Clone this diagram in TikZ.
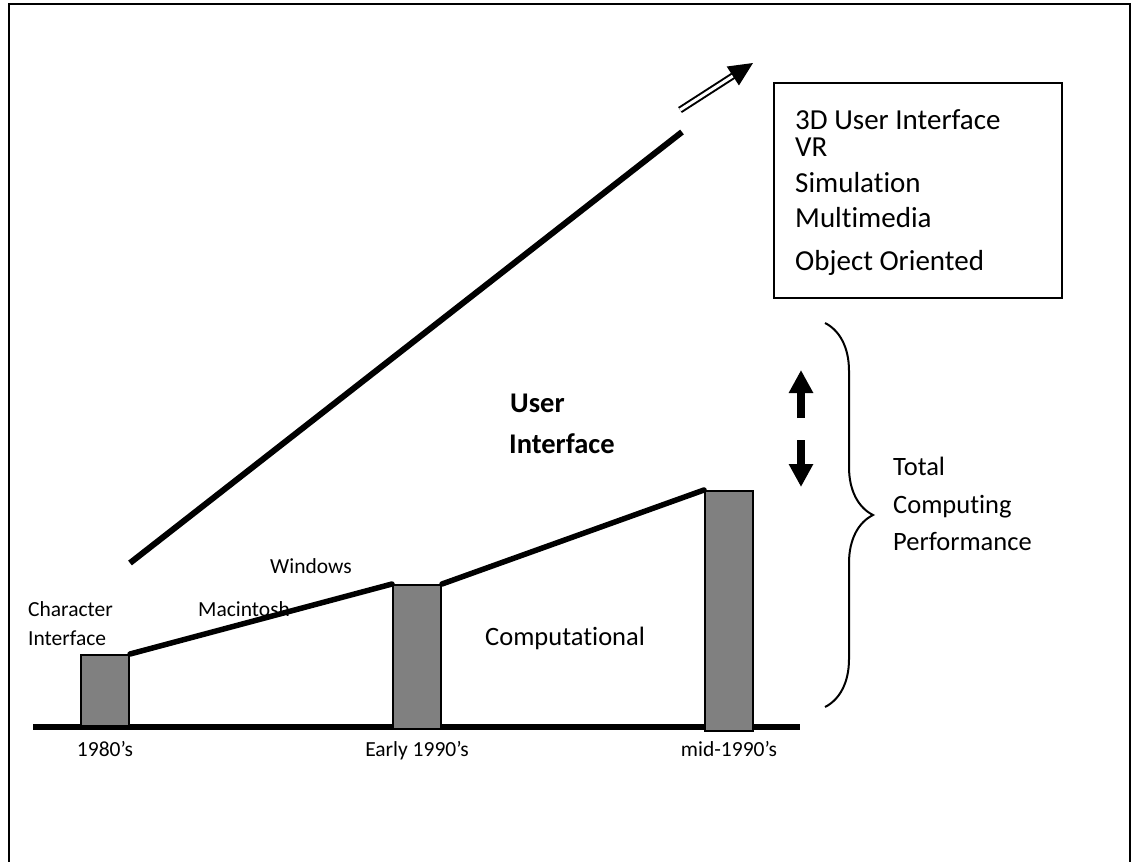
\documentclass[tikz,border=0pt]{standalone}
\usepackage{fontspec}
\setmainfont{Carlito}[Ligatures=NoCommon]
\usepackage{xcolor}
\usetikzlibrary{arrows.meta,decorations.pathreplacing}
\definecolor{ink}{HTML}{000000}
\definecolor{barfill}{HTML}{808080}
\tikzset{
  frame/.style={draw=ink, line width=2.5pt},
  axis/.style={draw=ink, line width=6pt},
  perf/.style={draw=ink, line width=5.5pt, line cap=round},
  trend/.style={draw=ink, line width=6pt},
  bar/.style={draw=ink, fill=barfill, line width=2pt, minimum width=48pt, inner sep=0pt, anchor=south},
  dbl/.style={draw=ink, double=white, double distance=3pt, line width=2pt, -{Triangle[length=24pt,width=22pt]}},
  fat/.style={draw=ink, line width=8pt, -{Triangle[length=23pt,width=23pt]}},
  brc/.style={draw=ink, line width=2pt, decorate, decoration={brace, amplitude=48pt}},
  box/.style={draw=ink, line width=2pt, inner sep=0pt},
  labs/.style={text=ink, font=\fontsize{21.5}{24}\selectfont, inner sep=0pt},
  labm/.style={text=ink, font=\fontsize{26.5}{30}\selectfont, inner sep=0pt},
  labb/.style={text=ink, font=\fontsize{28.5}{32}\selectfont\bfseries, inner sep=0pt},
  labx/.style={text=ink, font=\fontsize{29}{33}\selectfont, inner sep=0pt},
}
\begin{document}
\begin{tikzpicture}[x=1pt,y=-1pt]
  \useasboundingbox (0,0) rectangle (1139,861);
  \clip (0,0) rectangle (1139,861);
  \draw[frame] (9,4) rectangle (1130,900);

  % time axis and bars
  \coordinate (axL) at (33,727);
  \coordinate (axR) at (800,727);
  \draw[axis] (axL) -- (axR);
  \node[bar, minimum height=71pt] (b80) at (105,727) {};
  \node[bar, minimum height=144pt] (b90) at (417,730) {};
  \node[bar, minimum height=240pt] (b95) at (729,732) {};
  \draw[perf] (b80.north east) -- (b90.north west);
  \draw[perf] (b90.north east) -- (b95.north west);

  % user interface trend
  \coordinate (tr0) at (130,563);
  \coordinate (tr1) at (682,132);
  \draw[trend] (tr0) -- (tr1);
  \coordinate (dbl0) at (680,110);
  \coordinate (dbl1) at (753,63);
  \draw[dbl] (dbl0) -- (dbl1);

  \node[box, minimum width=288pt, minimum height=215pt, anchor=north west] (feat) at (773,82) {};
  \node[labx, anchor=base west] (f1) at (795,130) {3D User Interface};
  \node[labx, anchor=base west] (f2) at (795,157) {VR};
  \node[labx, anchor=base west] (f3) at (795,192) {Simulation};
  \node[labx, anchor=base west] (f4) at (795,227) {Multimedia};
  \node[labx, anchor=base west] (f5) at (795,270) {Object Oriented};

  % balance arrows and brace
  \coordinate (up0) at (801,418);
  \coordinate (up1) at (801,370);
  \coordinate (dn0) at (801,440);
  \coordinate (dn1) at (801,487);
  \draw[fat] (up0) -- (up1);
  \draw[fat] (dn0) -- (dn1);
  \coordinate (brT) at (825,323);
  \coordinate (brB) at (825,707);
  \draw[brc] (brT) -- (brB);

  \node[labm, anchor=base west] (tot1) at (893,475) {Total};
  \node[labm, anchor=base west] (tot2) at (893,513) {Computing};
  \node[labm, anchor=base west] (tot3) at (893,550) {Performance};

  \node[labb, anchor=base west] (ui1) at (510,412) {User};
  \node[labb, anchor=base west] (ui2) at (509,453) {Interface};
  \node[labm, anchor=base west] (comp) at (485,645) {Computational};

  \node[labs, anchor=base west] (ch1) at (28,616) {Character};
  \node[labs, anchor=base west] (ch2) at (28,645) {Interface};
  \node[labs, anchor=base west] (mac) at (198,616) {Macintosh};
  \node[labs, anchor=base west] (win) at (270,573) {Windows};
  \node[labs, anchor=base] (t80) at (105,756) {1980’s};
  \node[labs, anchor=base] (t90) at (417,756) {Early 1990’s};
  \node[labs, anchor=base] (t95) at (729,756) {mid-1990’s};
\end{tikzpicture}
\end{document}
